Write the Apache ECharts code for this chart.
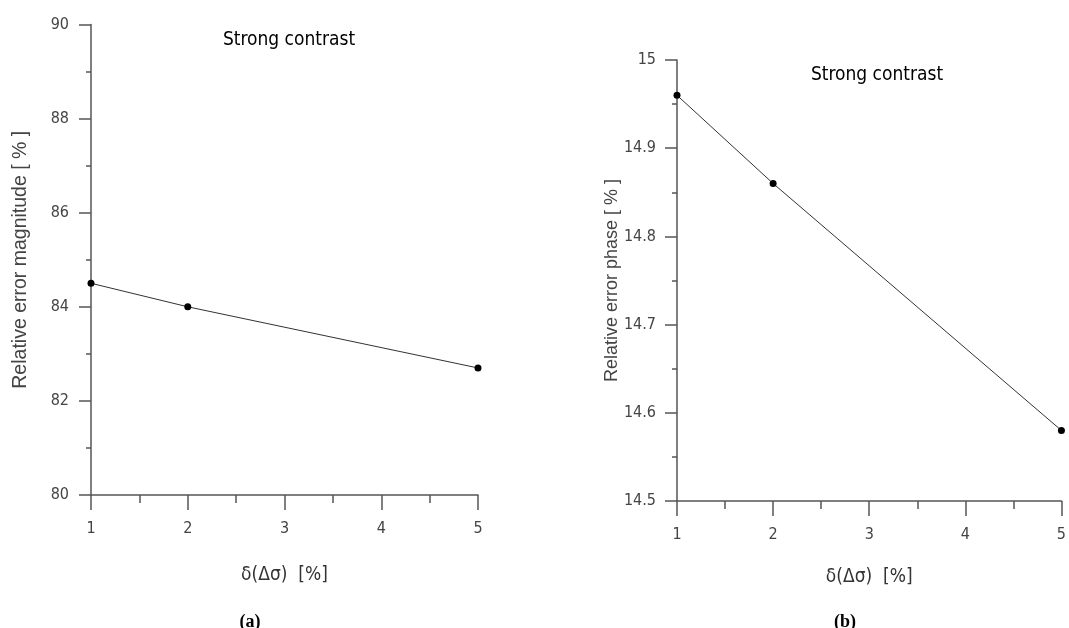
<!DOCTYPE html>
<html lang="en">
<head>
    <meta charset="UTF-8">
    <title>Strong contrast</title>
    <script src="https://cdn.jsdelivr.net/npm/echarts@6/dist/echarts.min.js"></script>
    <style>
        html, body { margin: 0; padding: 0; background: #fff; }
        #chart { width: 1069px; height: 628px; }
    </style>
</head>
<body>
<div id="chart"></div>
<script>
    // data
    var deltaSigma = [1, 2, 5];
    var errMagnitude = [84.5, 84.0, 82.7];
    var errPhase = [14.96, 14.86, 14.58];

    var narrow = "'Liberation Sans Narrow', 'DejaVu Sans Condensed', sans-serif";
    var axisGray = '#555';

    function pairs(xs, ys) {
        var out = [];
        for (var i = 0; i < xs.length; i++) out.push([xs[i], ys[i]]);
        return out;
    }

    function xAxisOpt(idx, gap) {
        return {
            gridIndex: idx, type: 'value', min: 1, max: 5, interval: 1,
            name: 'δ(Δσ)  [%]', nameLocation: 'middle', nameGap: gap,
            nameTextStyle: { fontFamily: narrow, fontSize: 19, color: '#333' },
            axisLine: { lineStyle: { color: axisGray, width: 1.5 } },
            axisTick: { length: 15, lineStyle: { color: axisGray, width: 1.5 } },
            minorTick: { show: true, splitNumber: 2, length: 8, lineStyle: { color: axisGray, width: 1.5 } },
            splitLine: { show: false },
            axisLabel: { fontFamily: narrow, fontSize: 16, color: '#444', margin: 26 }
        };
    }

    function yAxisOpt(idx, min, max, step, name, gap, nameSize, labelMargin) {
        return {
            gridIndex: idx, type: 'value', min: min, max: max, interval: step,
            name: name, nameLocation: 'middle', nameGap: gap, nameRotate: 90,
            nameMoveOverlap: false,
            nameTextStyle: { fontFamily: "'Liberation Sans', Arial, sans-serif", fontSize: nameSize, color: '#444' },
            axisLine: { show: true, lineStyle: { color: axisGray, width: 1.5 } },
            axisTick: { show: true, length: 12, lineStyle: { color: axisGray, width: 1.5 } },
            minorTick: { show: true, splitNumber: 2, length: 5, lineStyle: { color: axisGray, width: 1.5 } },
            splitLine: { show: false },
            axisLabel: { fontFamily: narrow, fontSize: 16, color: '#444', margin: labelMargin }
        };
    }

    function lineSeries(idx, data) {
        return {
            type: 'line', xAxisIndex: idx, yAxisIndex: idx, data: data,
            symbol: 'circle', symbolSize: 7,
            itemStyle: { color: '#000' },
            lineStyle: { color: '#333', width: 1 },
            animation: false
        };
    }

    var myChart = echarts.init(document.getElementById('chart'));
    var option = {
        backgroundColor: '#fff',
        animation: false,
        title: [
            { text: 'Strong contrast', left: 284, top: 26, textAlign: 'center',
              textStyle: { fontFamily: narrow, fontSize: 19, fontWeight: 'normal', color: '#000' } },
            { text: 'Strong contrast', left: 872, top: 61, textAlign: 'center',
              textStyle: { fontFamily: narrow, fontSize: 19, fontWeight: 'normal', color: '#000' } },
            { text: '(a)', left: 245, top: 608, textAlign: 'center',
              textStyle: { fontFamily: "'Liberation Serif', serif", fontSize: 18, fontWeight: 'bold', color: '#000' } },
            { text: '(b)', left: 840, top: 608, textAlign: 'center',
              textStyle: { fontFamily: "'Liberation Serif', serif", fontSize: 18, fontWeight: 'bold', color: '#000' } }
        ],
        grid: [
            { left: 91, top: 24.5, width: 387, height: 470.5 },
            { left: 677, top: 60, width: 387, height: 441 }
        ],
        xAxis: [xAxisOpt(0, 71), xAxisOpt(1, 67)],
        yAxis: [
            yAxisOpt(0, 80, 90, 2, 'Relative error magnitude [ % ]', 60, 19.5, 22),
            yAxisOpt(1, 14.5, 15, 0.1, 'Relative error phase [ % ]', 56, 18, 21)
        ],
        series: [
            lineSeries(0, pairs(deltaSigma, errMagnitude)),
            lineSeries(1, pairs(deltaSigma, errPhase))
        ]
    };
    myChart.setOption(option);
</script>
</body>
</html>
